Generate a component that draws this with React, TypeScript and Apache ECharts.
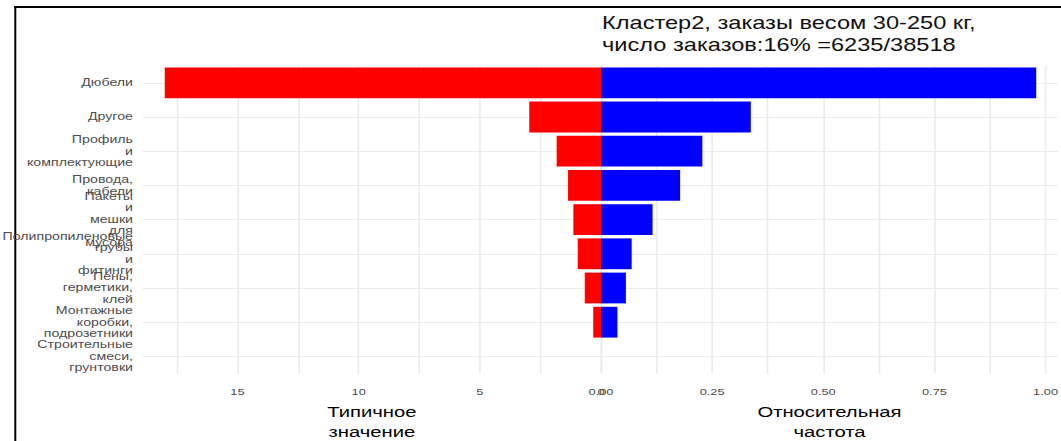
import React, { useEffect, useRef } from "react";
import * as echarts from "echarts";

// ---- data ----
const categories = [
  "Дюбели",
  "Другое",
  "Профиль и комплектующие",
  "Провода, кабели",
  "Пакеты и мешки для мусора",
  "Полипропиленовые трубы и фитинги",
  "Пены, герметики, клей",
  "Монтажные коробки, подрозетники",
  "Строительные смеси, грунтовки",
];
const typicalValue = [18.0, 2.96, 1.83, 1.36, 1.14, 0.96, 0.67, 0.32, 0];
const relativeFreq = [0.979, 0.337, 0.228, 0.178, 0.116, 0.069, 0.056, 0.037, 0];
const leftTicks = [0, 5, 10, 15];
const rightTicks = [0, 0.25, 0.5, 0.75, 1.0];
const titleText = "Кластер2, заказы весом 30-250 кг,\nчисло заказов:16% =6235/38518";
const leftAxisTitle = "Типичное\nзначение";
const rightAxisTitle = "Относительная\nчастота";

// ---- layout (screen px, horizontally stretched picture) ----
const W = 1061;
const H = 441;
const S = 1.35; // horizontal stretch of the reference
const X = (sx: number) => sx / S;
const FONT = "'Liberation Sans', Arial, sans-serif";
const GRID_COLOR = "#EBEBEB";
const TXT = "#4D4D4D";

const gridTop = 65.7;
const gridHeight = 307.8;
const zeroX = 601;
const leftEdge = 142.7;
const rightEdge = 1058;

export default function App() {
  const ref = useRef<HTMLDivElement>(null);
  useEffect(() => {
    if (!ref.current) return;
    const chart = echarts.init(ref.current, null, { renderer: "svg" });
    const near = (v: number, arr: number[]) => arr.some((t) => Math.abs(t - v) < 1e-9);
    const hLines = categories.map((c) => ({ yAxis: c }));
    const gridLineStyle = { color: GRID_COLOR, width: 1.2, type: "solid" as const };
    const markLineCfg = {
      silent: true,
      z: 0,
      symbol: ["none", "none"],
      label: { show: false },
      emphasis: { disabled: true },
      lineStyle: { color: GRID_COLOR, width: 1.2, type: "solid" },
      data: hLines,
    };
    chart.setOption({
      animation: false,
      backgroundColor: "#ffffff",
      title: {
        text: titleText,
        left: X(602),
        top: 12,
        padding: 0,
        textStyle: {
          fontFamily: FONT,
          fontSize: 17.5,
          fontWeight: "normal",
          color: "#111",
          lineHeight: 22,
        },
      },
      grid: [
        {
          left: X(leftEdge),
          width: X(zeroX) - X(leftEdge),
          top: gridTop,
          height: gridHeight,
          containLabel: false,
          outerBoundsMode: "none",
        },
        {
          left: X(zeroX),
          width: X(rightEdge) - X(zeroX),
          top: gridTop,
          height: gridHeight,
          containLabel: false,
          outerBoundsMode: "none",
        },
      ],
      xAxis: [
        {
          type: "value",
          gridIndex: 0,
          inverse: true,
          min: 0,
          max: 18.91,
          interval: 2.5,
          axisLine: { show: false },
          axisTick: { show: false },
          splitLine: { show: true, showMaxLine: false, lineStyle: gridLineStyle },
          axisLabel: {
            showMaxLabel: false,
            margin: 13.5,
            fontFamily: FONT,
            fontSize: 9.5,
            color: TXT,
            formatter: (v: number) => (near(v, leftTicks) ? String(v) : ""),
          },
          name: leftAxisTitle,
          nameLocation: "middle",
          nameGap: 25,
          nameTextStyle: { fontFamily: FONT, fontSize: 15, lineHeight: 20, color: "#000" },
        },
        {
          type: "value",
          gridIndex: 1,
          min: 0,
          max: 1.028,
          interval: 0.125,
          axisLine: { show: false },
          axisTick: { show: false },
          splitLine: { show: true, showMaxLine: false, lineStyle: gridLineStyle },
          axisLabel: {
            showMaxLabel: false,
            margin: 13.5,
            fontFamily: FONT,
            fontSize: 9.5,
            color: TXT,
            formatter: (v: number) => (near(v, rightTicks) ? v.toFixed(2) : ""),
          },
          name: rightAxisTitle,
          nameLocation: "middle",
          nameGap: 25,
          nameTextStyle: { fontFamily: FONT, fontSize: 15, lineHeight: 20, color: "#000" },
        },
      ],
      yAxis: [
        {
          type: "category",
          gridIndex: 0,
          inverse: true,
          data: categories,
          axisLine: { show: false },
          axisTick: { show: false },
          splitLine: { show: false },
          axisLabel: {
            margin: X(9.7),
            fontFamily: FONT,
            fontSize: 10.5,
            lineHeight: 11.5,
            color: TXT,
            align: "right",
            interval: 0,
            formatter: (v: string) => v.split(" ").join("\n"),
          },
        },
        {
          type: "category",
          gridIndex: 1,
          inverse: true,
          data: categories,
          axisLine: { show: false },
          axisTick: { show: false },
          splitLine: { show: false },
          axisLabel: { show: false },
        },
      ],
      series: [
        {
          type: "line",
          xAxisIndex: 0,
          yAxisIndex: 0,
          z: 0,
          data: categories.map(() => null),
          showSymbol: false,
          silent: true,
          markLine: markLineCfg,
        },
        {
          type: "line",
          xAxisIndex: 1,
          yAxisIndex: 1,
          z: 0,
          data: categories.map(() => null),
          showSymbol: false,
          silent: true,
          markLine: markLineCfg,
        },
        {
          type: "bar",
          name: "Типичное значение",
          xAxisIndex: 0,
          yAxisIndex: 0,
          z: 3,
          barWidth: "90%",
          itemStyle: { color: "#FF0000" },
          data: typicalValue,
        },
        {
          type: "bar",
          name: "Относительная частота",
          xAxisIndex: 1,
          yAxisIndex: 1,
          z: 3,
          barWidth: "90%",
          itemStyle: { color: "#0000FF" },
          data: relativeFreq,
        },
      ],
      graphic: [
        {
          type: "line",
          silent: true,
          shape: { x1: X(15.3), y1: 6, x2: X(15.3), y2: H },
          style: { stroke: "#000", lineWidth: 2 / S },
        },
        {
          type: "line",
          silent: true,
          shape: { x1: X(14.3), y1: 7, x2: X(W), y2: 7 },
          style: { stroke: "#000", lineWidth: 2 },
        },
      ],
    });
    return () => chart.dispose();
  }, []);

  return (
    <div
      style={{
        position: "fixed",
        left: 0,
        top: 0,
        width: W,
        height: H,
        overflow: "hidden",
        background: "#fff",
      }}
    >
      <div
        ref={ref}
        style={{
          width: W / S,
          height: H,
          transform: `scaleX(${S})`,
          transformOrigin: "0 0",
        }}
      />
    </div>
  );
}
